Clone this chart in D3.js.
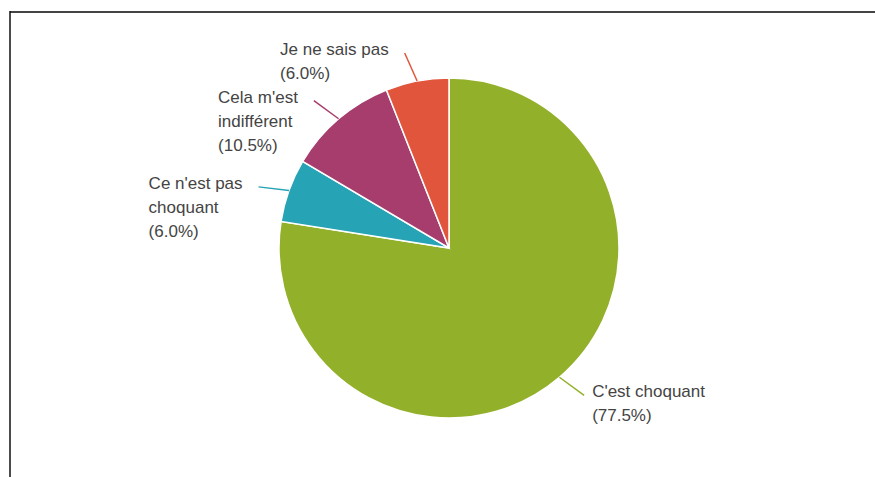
<!DOCTYPE html>
<html>
<head>
<meta charset="utf-8">
<script src="https://cdn.jsdelivr.net/npm/d3@7"></script>
<style>
  html, body { margin: 0; padding: 0; background: #fff; }
  svg { display: block; }
</style>
</head>
<body>
<svg id="chart" width="875" height="477"></svg>
<script>
// Data
const categories = ["C'est choquant", "Ce n'est pas choquant", "Cela m'est indifférent", "Je ne sais pas"];
const values = [77.5, 6.0, 10.5, 6.0];
const labelLines = [
  ["C'est choquant"],
  ["Ce n'est pas", "choquant"],
  ["Cela m'est", "indifférent"],
  ["Je ne sais pas"]
];
const colors = ["#93b02a", "#26a3b5", "#a63d6d", "#e1553d"];

const svg = d3.select("#chart");
const W = 875, H = 477;

// frame
svg.append("line").attr("x1", 10).attr("x2", W).attr("y1", 12).attr("y2", 12)
  .attr("stroke", "#444").attr("stroke-width", 2);
svg.append("line").attr("x1", 10).attr("x2", 10).attr("y1", 11).attr("y2", H)
  .attr("stroke", "#111").attr("stroke-width", 1.5);

const cx = 449, cy = 248, r = 170;
const g = svg.append("g").attr("transform", `translate(${cx},${cy})`);

const data = categories.map((c, i) => ({ cat: c, value: values[i], lines: labelLines[i], color: colors[i] }));
const pie = d3.pie().value(d => d.value).sort(null);
const arcs = pie(data);
const arc = d3.arc().innerRadius(0).outerRadius(r);

g.selectAll("path.slice").data(arcs).join("path")
  .attr("class", "slice")
  .attr("d", arc)
  .attr("fill", d => d.data.color)
  .attr("stroke", "#fff")
  .attr("stroke-width", 1.5);

const fmt = d3.format(".1f");
const fontSize = 17, lineH = 24;

arcs.forEach(a => {
  const mid = (a.startAngle + a.endAngle) / 2;
  const p0 = [Math.sin(mid) * r, -Math.cos(mid) * r];
  const a2 = mid - 0.035;
  const p1 = [Math.sin(a2) * (r + 30), -Math.cos(a2) * (r + 30)];
  g.append("line")
    .attr("x1", p0[0]).attr("y1", p0[1]).attr("x2", p1[0]).attr("y2", p1[1])
    .attr("stroke", a.data.color).attr("stroke-width", 1.5);

  const lines = a.data.lines.concat([`(${fmt(a.data.value)}%)`]);
  const t = g.append("text")
    .attr("font-family", "Arial, 'Liberation Sans', sans-serif")
    .attr("font-size", fontSize)
    .attr("fill", "#444");
  lines.forEach((ln, i) => {
    t.append("tspan").attr("x", 0).attr("y", p1[1] + 2 + i * lineH).text(ln);
  });
  const right = p1[0] > 0;
  let maxW = 0;
  t.selectAll("tspan").each(function () { maxW = Math.max(maxW, this.getComputedTextLength()); });
  const x0 = right ? p1[0] + 8 : p1[0] - 16 - maxW;
  t.selectAll("tspan").attr("x", x0);
});
</script>
</body>
</html>
